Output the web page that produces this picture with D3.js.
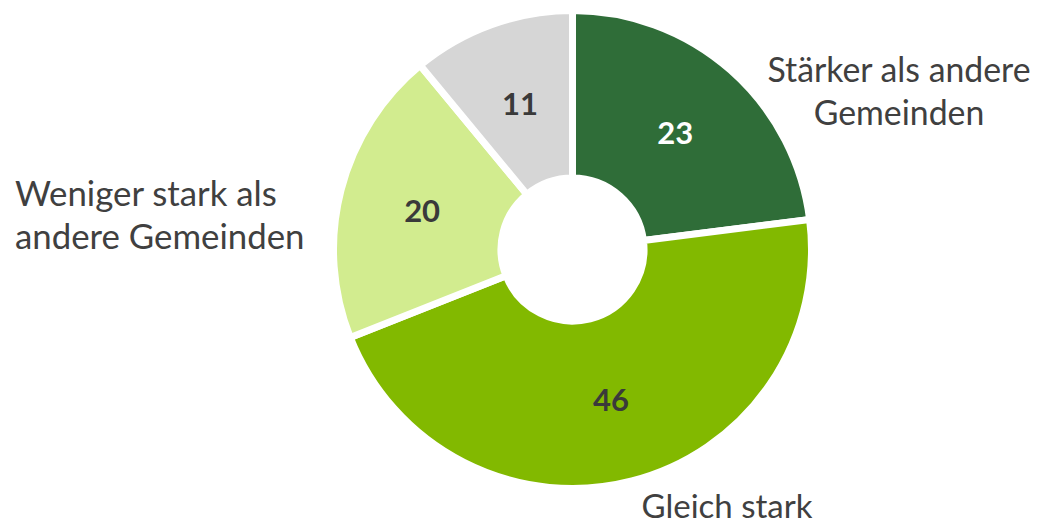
<!DOCTYPE html>
<html>
<head>
<meta charset="utf-8">
<script src="https://cdn.jsdelivr.net/npm/d3@7"></script>
<style>
  html, body { margin: 0; padding: 0; background: #ffffff; }
  svg { display: block; }
</style>
</head>
<body>
<svg id="chart" width="1037" height="524"></svg>
<script>
// ---- data ----
const categories = ["Stärker als andere Gemeinden", "Gleich stark", "Weniger stark als andere Gemeinden", "Keine Angabe"];
const values = [23, 46, 20, 11];
const colors = ["#2f6d38", "#82b900", "#d2ec8f", "#d6d6d6"];
const valueColors = ["#ffffff", "#3a3a3a", "#3a3a3a", "#3a3a3a"];
const labelLines = [["Stärker als andere", "Gemeinden"], ["Gleich stark"], ["Weniger stark als", "andere Gemeinden"], []];

const svg = d3.select("#chart");
const cx = 572.5, cy = 249.5;
const outerR = 239, innerR = 71.5;

const data = categories.map((c, i) => ({ cat: c, value: values[i], i }));
const pie = d3.pie().sort(null).value(d => d.value).startAngle(0).endAngle(2 * Math.PI);
const arcs = pie(data);
const arc = d3.arc().innerRadius(innerR).outerRadius(outerR);
const midArc = d3.arc().innerRadius((235.5 + 75) / 2).outerRadius((235.5 + 75) / 2);

const g = svg.append("g").attr("transform", `translate(${cx},${cy})`);
g.selectAll("path.slice").data(arcs).join("path")
  .attr("class", "slice")
  .attr("d", arc)
  .attr("fill", d => colors[d.data.i])
  .attr("stroke", "#ffffff")
  .attr("stroke-width", 7)
  .attr("stroke-linejoin", "miter");

g.selectAll("text.val").data(arcs).join("text")
  .attr("class", "val")
  .attr("transform", d => `translate(${midArc.centroid(d)})`)
  .attr("text-anchor", "middle")
  .attr("dy", "0.36em")
  .attr("font-family", "Lato, 'Open Sans', sans-serif")
  .attr("font-weight", "bold")
  .attr("font-size", 31)
  .attr("fill", d => valueColors[d.data.i])
  .text(d => d.data.value);

// category labels
const labelFont = "Lato, 'Open Sans', sans-serif";
const labelPos = [
  { x: 899, y: 82, anchor: "middle", size: 33.8 },
  { x: 727, y: 518, anchor: "middle", size: 33 },
  { x: 15, y: 206, anchor: "start", size: 34.8 },
  null
];
labelLines.forEach((lines, i) => {
  const p = labelPos[i];
  if (!p || !lines.length) return;
  const t = svg.append("text")
    .attr("x", p.x).attr("y", p.y)
    .attr("text-anchor", p.anchor)
    .attr("font-family", labelFont)
    .attr("font-size", p.size)
    .attr("fill", "#404040");
  lines.forEach((ln, k) => {
    t.append("tspan").attr("x", p.x).attr("dy", k === 0 ? 0 : 43).text(ln);
  });
});
</script>
</body>
</html>
